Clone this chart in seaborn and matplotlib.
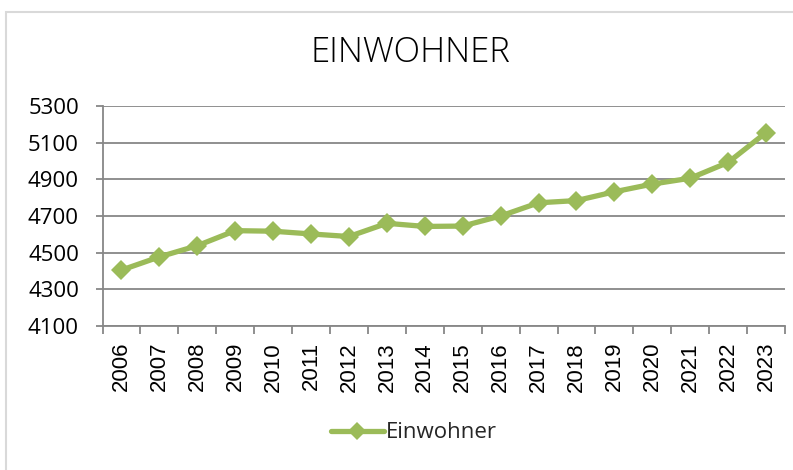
import matplotlib
matplotlib.use("Agg")
import matplotlib.pyplot as plt
import seaborn as sns
import pandas as pd
from matplotlib.patches import Rectangle
from matplotlib.ticker import FixedLocator

# Einwohner per year
years = [2006, 2007, 2008, 2009, 2010, 2011, 2012, 2013, 2014,
         2015, 2016, 2017, 2018, 2019, 2020, 2021, 2022, 2023]
einwohner = [4405, 4477, 4538, 4620, 4617, 4602, 4588, 4660, 4643,
             4645, 4700, 4772, 4784, 4832, 4874, 4906, 4992, 5155]
y_ticks = [4100, 4300, 4500, 4700, 4900, 5100, 5300]

df = pd.DataFrame({"Jahr": years, "Einwohner": einwohner})

sns.set_style("white")
plt.rcParams["font.family"] = ["Open Sans", "DejaVu Sans"]

green = "#9BBB59"
grid_grey = "#878787"

fig = plt.figure(figsize=(7.93, 4.70), dpi=100)
ax = fig.add_axes([0.1293, 0.3064, 0.8606, 0.4681])

# outer chart frame
fig.patches.append(Rectangle((6 / 793, -0.05), 1.1, 1 - 12 / 470 + 0.05,
                             transform=fig.transFigure, fill=False,
                             edgecolor="#d9d9d9", linewidth=1.5, zorder=0))

sns.lineplot(data=df, x="Jahr", y="Einwohner", ax=ax, color=green,
             linewidth=3.8, marker="D", markersize=10.5,
             markeredgecolor=green, markeredgewidth=0, label="Einwohner")

ax.set_xlim(years[0] - 0.5, years[-1] + 0.5)
ax.set_ylim(y_ticks[0], y_ticks[-1])
ax.set_yticks(y_ticks)
ax.set_yticklabels([str(v) for v in y_ticks], fontsize=16, family="Open Sans")
ax.set_xticks(years)
ax.set_xticklabels([str(y) for y in years], rotation=90, fontsize=16,
                   family="Liberation Sans")
ax.xaxis.set_minor_locator(FixedLocator([y - 0.5 for y in years] + [years[-1] + 0.5]))
ax.set_xlabel("")
ax.set_ylabel("")

ax.yaxis.grid(True, color=grid_grey, linewidth=1.3)
ax.set_axisbelow(True)
for s in ["top", "right"]:
    ax.spines[s].set_visible(False)
for s in ["left", "bottom"]:
    ax.spines[s].set_color(grid_grey)
    ax.spines[s].set_linewidth(1.3)

ax.tick_params(axis="y", which="major", left=True, length=5, width=1.3,
               color=grid_grey, pad=12, labelcolor="black")
ax.tick_params(axis="x", which="major", bottom=True, length=0, pad=11.5,
               labelcolor="black")
ax.tick_params(axis="x", which="minor", bottom=True, length=6, width=1.3,
               color=grid_grey)

fig.text(0.5177, 1 - 62 / 470, "EINWOHNER", ha="center", va="baseline",
         fontsize=25, family="Open Sans", fontweight="light", color="black")

leg = ax.legend(loc="center", bbox_to_anchor=(414 / 793, 1 - 433 / 470),
                bbox_transform=fig.transFigure, frameon=False, fontsize=16,
                handlelength=2.4, handletextpad=0.1, borderpad=0)
for h in leg.legend_handles:
    h.set_markersize(9)

fig.savefig("out.png", dpi=100)
